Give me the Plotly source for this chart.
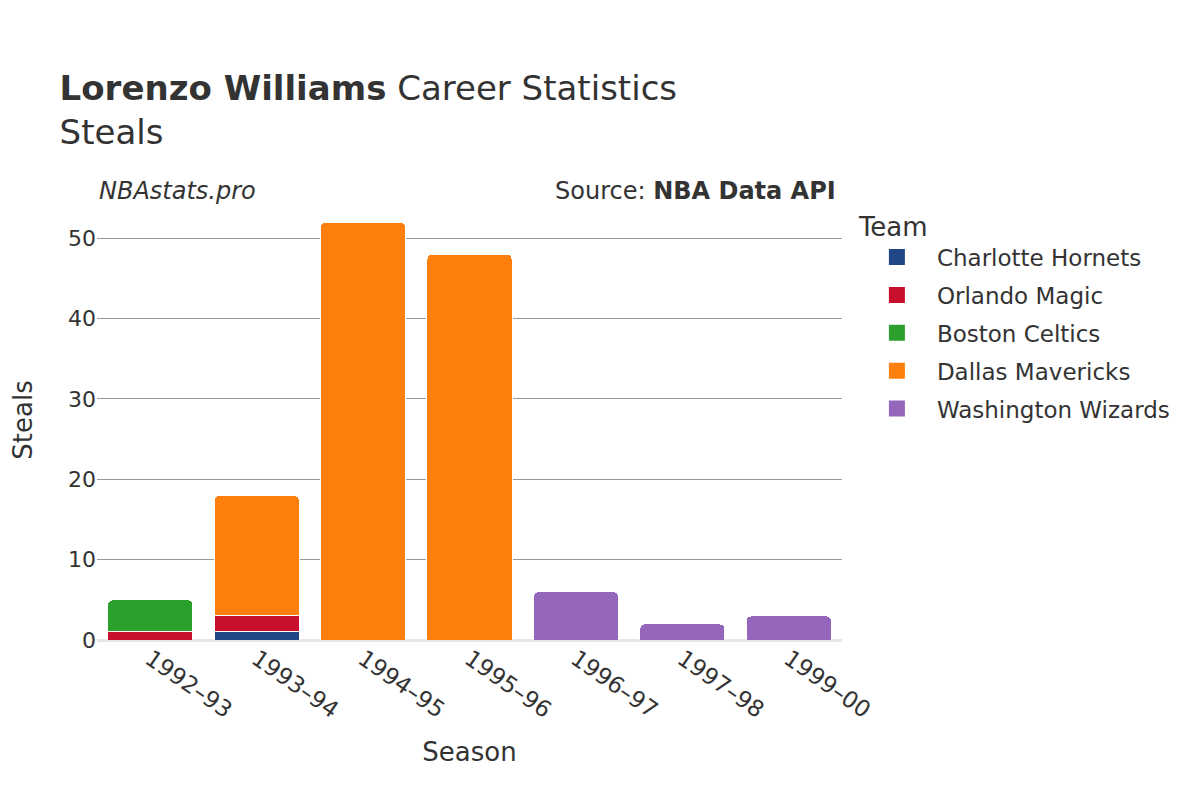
import plotly.graph_objects as go

seasons = ["1992–93", "1993–94", "1994–95", "1995–96", "1996–97", "1997–98", "1999–00"]
teams = ["Charlotte Hornets", "Orlando Magic", "Boston Celtics", "Dallas Mavericks", "Washington Wizards"]
colors = ["#1f4788", "#c8102e", "#2ca02c", "#ff7f0e", "#9467bd"]
charlotte = [0, 1, 0, 0, 0, 0, 0]
orlando = [1, 2, 0, 0, 0, 0, 0]
boston = [4, 0, 0, 0, 0, 0, 0]
dallas = [0, 15, 52, 48, 0, 0, 0]
washington = [0, 0, 0, 0, 6, 2, 3]
values = [charlotte, orlando, boston, dallas, washington]

fig = go.Figure()
for t, c, v in zip(teams, colors, values):
    xs = [s for s, y in zip(seasons, v) if y]
    ys = [y for y in v if y]
    fig.add_trace(go.Bar(name=t, x=xs, y=ys, showlegend=False, legendgroup=t,
                         marker=dict(color=c, line=dict(color="#ffffff", width=1))))
for t, c in zip(teams, colors):
    fig.add_trace(go.Scatter(name=t, x=[None], y=[None], mode="markers", legendgroup=t,
                             marker=dict(symbol="square", size=22, color=c)))

fig.update_layout(
    barmode="stack", bargap=0.2, barcornerradius=5,
    width=1200, height=800,
    font=dict(family="DejaVu Sans", color="#333333", size=20),
    paper_bgcolor="white", plot_bgcolor="white",
    margin=dict(l=84, r=366, t=192, b=168),
    title=dict(text="<b>Lorenzo Williams</b> Career Statistics<br>Steals", x=0.043, xanchor="left", y=0.885, yanchor="top", font=dict(size=34)),
    legend=dict(title=dict(text="Team", font=dict(size=26)), traceorder="grouped", x=1.02, y=0.996, yanchor="top",
                font=dict(size=23), itemsizing="trace", itemwidth=70, tracegroupgap=5),
    xaxis=dict(title=dict(text="Season", font=dict(size=26), standoff=20), categoryorder="array", categoryarray=seasons, tickangle=35, tickfont=dict(size=23)),
    yaxis=dict(title=dict(text="Steals", font=dict(size=26), standoff=30), gridcolor="#999999", tickfont=dict(size=22), zeroline=True, zerolinecolor="#e6e6e6", zerolinewidth=3),
    annotations=[
        dict(text="<i>NBAstats.pro</i>", xref="paper", yref="paper", x=0.0, y=0.984, xanchor="left", yanchor="bottom", showarrow=False, font=dict(size=24)),
        dict(text="Source: <b>NBA Data API</b>", xref="paper", yref="paper", x=0.995, y=0.984, xanchor="right", yanchor="bottom", showarrow=False, font=dict(size=24)),
    ],
)
fig.write_html("out.html")
